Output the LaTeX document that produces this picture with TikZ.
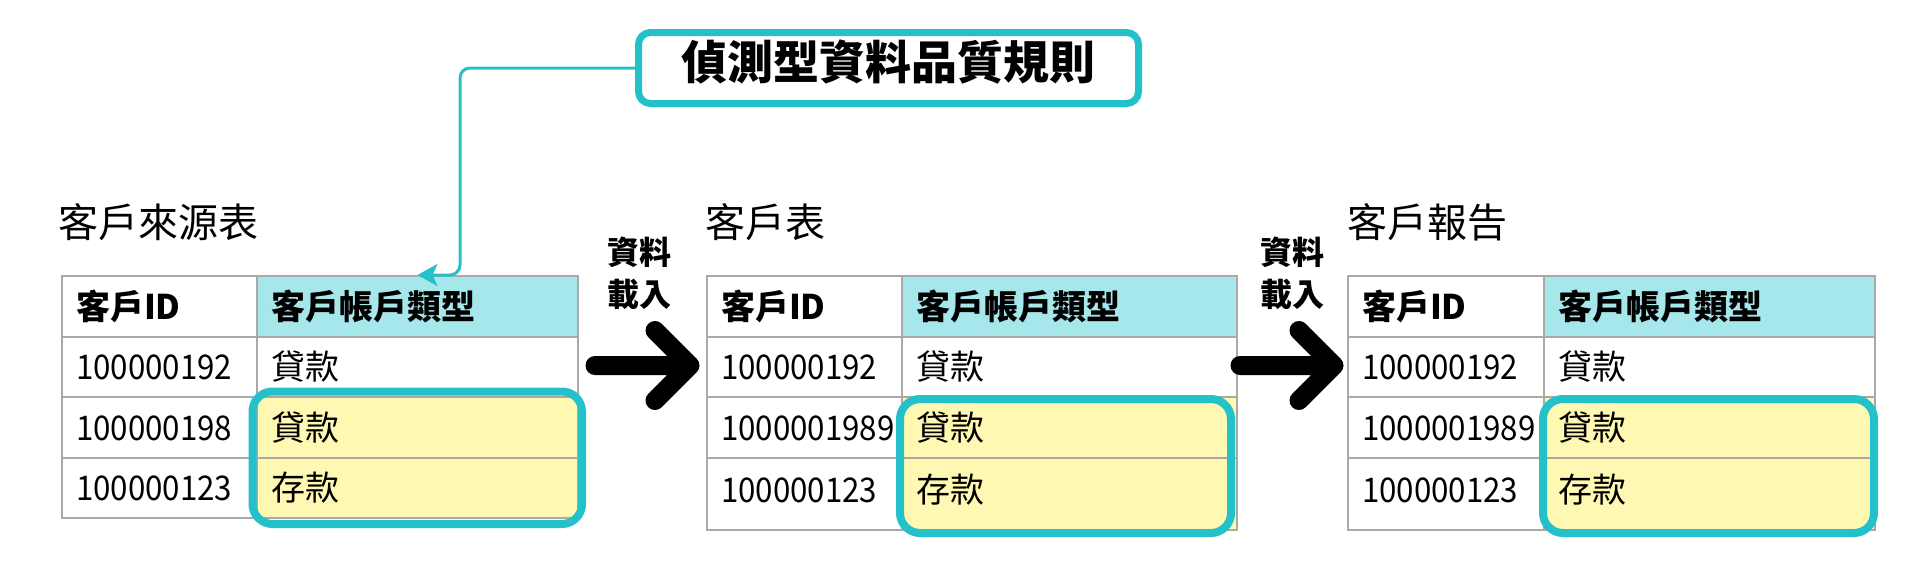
\documentclass[tikz,border=0pt]{standalone}
\usepackage{fontspec}
\setmainfont{Noto Sans CJK TC}
\newfontfamily\digitfont{Noto Sans CJK TC}[FakeStretch=0.92]
\usetikzlibrary{arrows.meta}
\definecolor{tealA}{HTML}{24C1CB}
\definecolor{hdr}{HTML}{A6E7EB}
\definecolor{yel}{HTML}{FFF8B2}
\definecolor{gridc}{HTML}{A9A9A9}
\tikzset{
  cell/.style={draw=gridc, line width=2pt, anchor=north west, inner xsep=14pt, inner ysep=0pt,
    align=left, font=\fontsize{34}{40}\selectfont, text height=30pt, text depth=4pt},
  rowstd/.style={minimum height=60.5},
  rowtall/.style={minimum height=72.5, text depth=12pt},
  tabtitle/.style={anchor=west, inner sep=0pt, font=\fontsize{40}{48}\selectfont, text height=35pt, text depth=5pt},
  rulebox/.style={draw=tealA, fill=white, line width=7pt, rounded corners=12pt, minimum width=500, minimum height=71,
    inner sep=0pt, font=\fontsize{46}{50}\selectfont\bfseries, text height=34pt, text depth=12pt},
  hlbox/.style={draw=tealA, line width=8pt, rounded corners=20pt},
  conn/.style={draw=tealA, line width=3pt, rounded corners=10pt, -{Stealth[length=20pt,width=22pt,inset=5pt]}},
  bigarrow/.style={draw=black, line width=19pt, line cap=round, line join=round},
  loadlbl/.style={inner sep=0pt, align=center, font=\fontsize{32}{42}\selectfont\bfseries}
}
\newcommand\datatable[6]{%
  \node[cell, rowstd, minimum width=#3, text width={#3-28}] (#1-h1) at (#2,275) {\bfseries 客戶ID};
  \node[cell, rowstd, fill=hdr, minimum width=#4, text width={#4-28}] (#1-h2) at ({#2+#3},275) {\bfseries 客戶帳戶類型};
  \node[cell, rowstd, minimum width=#3, text width={#3-28}] (#1-a1) at (#2,335.5) {\digitfont 100000192};
  \node[cell, rowstd, minimum width=#4, text width={#4-28}] (#1-a2) at ({#2+#3},335.5) {貸款};
  \node[cell, rowstd, minimum width=#3, text width={#3-28}] (#1-b1) at (#2,396) {\digitfont #5};
  \node[cell, rowstd, fill=yel, minimum width=#4, text width={#4-28}] (#1-b2) at ({#2+#3},396) {貸款};
  \node[cell, #6, minimum width=#3, text width={#3-28}] (#1-c1) at (#2,456.5) {\digitfont 100000123};
  \node[cell, #6, fill=yel, minimum width=#4, text width={#4-28}] (#1-c2) at ({#2+#3},456.5) {存款};
}
\begin{document}
\begin{tikzpicture}[x=1pt,y=-1pt]
\useasboundingbox[fill=white] (0,0) rectangle (1920,560);

% titles
\node[tabtitle] (t1) at (58,222) {客戶來源表};
\node[tabtitle] (t2) at (705,222) {客戶表};
\node[tabtitle] (t3) at (1347,222) {客戶報告};

% tables
\datatable{ta}{61}{195}{321}{100000198}{rowstd}
\datatable{tb}{706}{195}{335}{1000001989}{rowtall}
\datatable{tc}{1347}{196}{331}{1000001989}{rowtall}

% highlights
\draw[hlbox] (252.5,391.5) rectangle (582,524);
\draw[hlbox] (900,399) rectangle (1231,533);
\draw[hlbox] (1543,399) rectangle (1874,533);

% rule box and connector
\node[rulebox] (rule) at (888.5,68) {偵測型資料品質規則};
\coordinate (bend) at (460,68);
\draw[conn] (rule.west) -- (bend) |- (ta-h2.north);

% load arrows
\node[loadlbl] (l1) at (639,273.5) {資料\\載入};
\node[loadlbl] (l2) at (1292,273.5) {資料\\載入};
\coordinate (a1s) at (595,365.5);
\coordinate (a1e) at (690,365.5);
\coordinate (a2s) at (1240,365.5);
\coordinate (a2e) at (1334,365.5);
\draw[bigarrow] (a1s) -- (a1e) ++(-35,-35) -- (a1e) -- ++(-35,35);
\draw[bigarrow] (a2s) -- (a2e) ++(-35,-35) -- (a2e) -- ++(-35,35);
\end{tikzpicture}
\end{document}
